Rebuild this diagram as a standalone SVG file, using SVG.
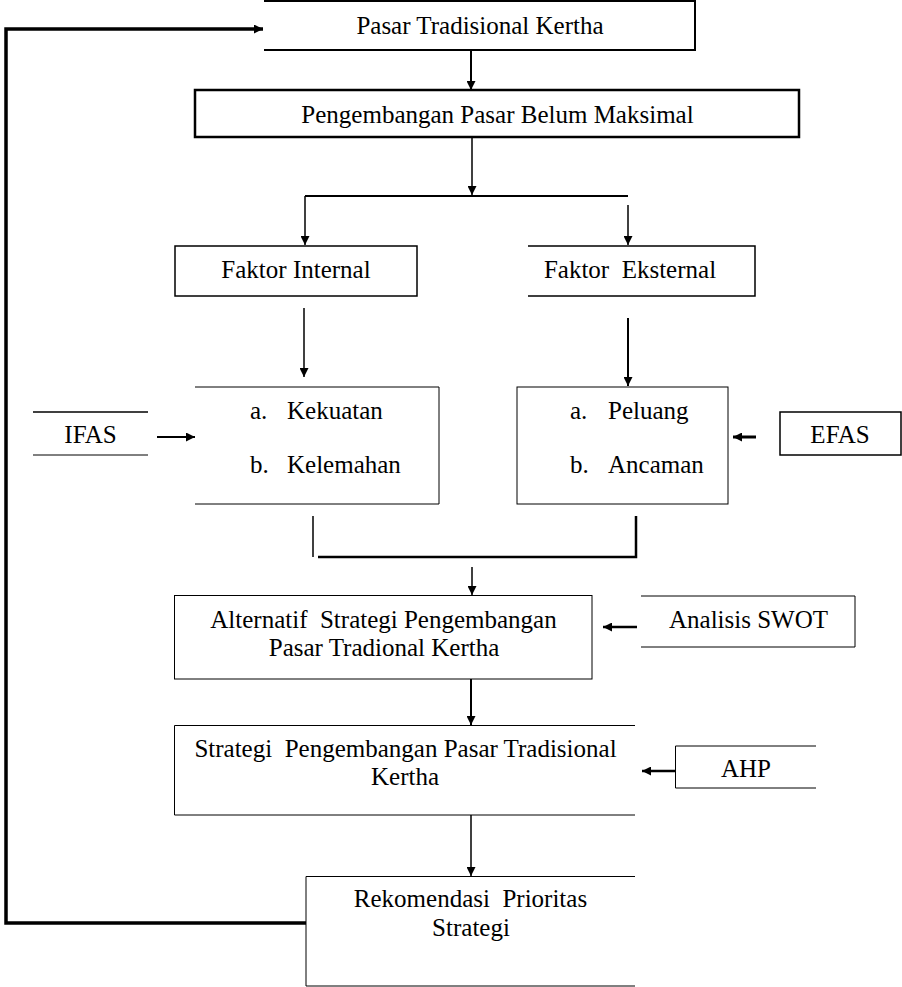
<svg xmlns="http://www.w3.org/2000/svg" width="902" height="987" viewBox="0 0 902 987">
<defs>
<style>
.t{font-family:"Liberation Serif","Times New Roman",serif;font-size:25px;fill:#000;}
.m{text-anchor:middle;}
.b{fill:none;stroke:#000;}
.c{fill:none;stroke:#000;}
</style>
<marker id="ah" viewBox="0 0 10 10" refX="10" refY="5" markerWidth="10" markerHeight="9" markerUnits="userSpaceOnUse" orient="auto">
<path d="M0,0 L10,5 L0,10 z" fill="#000"/>
</marker>
</defs>
<rect width="902" height="987" fill="#fff"/>
<g id="connectors">
<path class="c" d="M306,923 L6,923 L6,29 L263,29" stroke-width="3.5" marker-end="url(#ah)"/>
<path class="c" d="M471,50 L471,90" stroke-width="2" marker-end="url(#ah)"/>
<path class="c" d="M472,137 L472,195" stroke-width="1.5" marker-end="url(#ah)"/>
<path class="c" d="M305,196 L628,196" stroke-width="2"/>
<path class="c" d="M305,196 L305,245" stroke-width="1.5" marker-end="url(#ah)"/>
<path class="c" d="M628,205 L628,245" stroke-width="1.5" marker-end="url(#ah)"/>
<path class="c" d="M304,308 L304,377" stroke-width="1.5" marker-end="url(#ah)"/>
<path class="c" d="M628,318 L628,386" stroke-width="2" marker-end="url(#ah)"/>
<path class="c" d="M157,437 L195,437" stroke-width="2" marker-end="url(#ah)"/>
<path class="c" d="M756,437 L733,437" stroke-width="3" marker-end="url(#ah)"/>
<path class="c" d="M313,516 L313,557" stroke-width="1.5"/>
<path class="c" d="M318,557 L636,557 L636,516" stroke-width="2.5"/>
<path class="c" d="M472,567 L472,595" stroke-width="1.5" marker-end="url(#ah)"/>
<path class="c" d="M637,627 L603,627" stroke-width="2.5" marker-end="url(#ah)"/>
<path class="c" d="M471,679 L471,725" stroke-width="2" marker-end="url(#ah)"/>
<path class="c" d="M675,771 L642,771" stroke-width="2.5" marker-end="url(#ah)"/>
<path class="c" d="M471,815 L471,876" stroke-width="1.5" marker-end="url(#ah)"/>
</g>
<g id="n-pasar">
<path class="b" d="M264,1 L695,1 L695,50 L264,50" stroke-width="2"/>
<text class="t m" x="480" y="34">Pasar Tradisional Kertha</text>
</g>
<g id="n-pengembangan">
<rect class="b" x="195" y="90" width="604" height="47" stroke-width="2.5"/>
<text class="t m" x="497.5" y="123">Pengembangan Pasar Belum Maksimal</text>
</g>
<g id="n-internal">
<rect class="b" x="175" y="246" width="242" height="50" stroke-width="1.5"/>
<text class="t m" x="296" y="278">Faktor Internal</text>
</g>
<g id="n-eksternal">
<path class="b" d="M528,246 L755,246 L755,296 L528,296" stroke-width="1.5"/>
<text class="t m" x="630" y="278" xml:space="preserve">Faktor  Eksternal</text>
</g>
<g id="n-kekuatan">
<path class="b" d="M195,387 L439,387 L439,504 L195,504" stroke-width="1"/>
<text class="t" x="250" y="419">a.</text>
<text class="t" x="287" y="419">Kekuatan</text>
<text class="t" x="250" y="473">b.</text>
<text class="t" x="287" y="473">Kelemahan</text>
</g>
<g id="n-ifas">
<path class="b" d="M33,412 L148,412" stroke-width="1.5"/>
<path class="b" d="M33,455 L148,455" stroke-width="1"/>
<text class="t m" x="90.5" y="443">IFAS</text>
</g>
<g id="n-peluang">
<rect class="b" x="517" y="387" width="211" height="117" stroke-width="1"/>
<text class="t" x="570" y="419">a.</text>
<text class="t" x="608" y="419">Peluang</text>
<text class="t" x="570" y="473">b.</text>
<text class="t" x="608" y="473">Ancaman</text>
</g>
<g id="n-efas">
<rect class="b" x="780" y="412" width="121" height="43" stroke-width="1.5"/>
<text class="t m" x="840" y="443">EFAS</text>
</g>
<g id="n-alternatif">
<rect class="b" x="174.5" y="595.5" width="417.5" height="83.5" stroke-width="1"/>
<text class="t m" x="383.5" y="628" xml:space="preserve">Alternatif  Strategi Pengembangan</text>
<text class="t m" x="384" y="656">Pasar Tradional Kertha</text>
</g>
<g id="n-swot">
<path class="b" d="M641,596 L855,596 L855,647 L641,647" stroke-width="1"/>
<text class="t m" x="748.5" y="628">Analisis SWOT</text>
</g>
<g id="n-strategi">
<path class="b" d="M635,725.5 L174.5,725.5 L174.5,815 L635,815" stroke-width="1"/>
<text class="t m" x="405.5" y="757" xml:space="preserve">Strategi  Pengembangan Pasar Tradisional</text>
<text class="t m" x="405" y="785">Kertha</text>
</g>
<g id="n-ahp">
<path class="b" d="M816,746 L675.5,746 L675.5,788 L816,788" stroke-width="1"/>
<text class="t m" x="746" y="777">AHP</text>
</g>
<g id="n-rekomendasi">
<path class="b" d="M635,876.5 L306,876.5 L306,986 L635,986" stroke-width="1"/>
<text class="t m" x="470.5" y="907" xml:space="preserve">Rekomendasi  Prioritas</text>
<text class="t m" x="471" y="936">Strategi</text>
</g>
</svg>
